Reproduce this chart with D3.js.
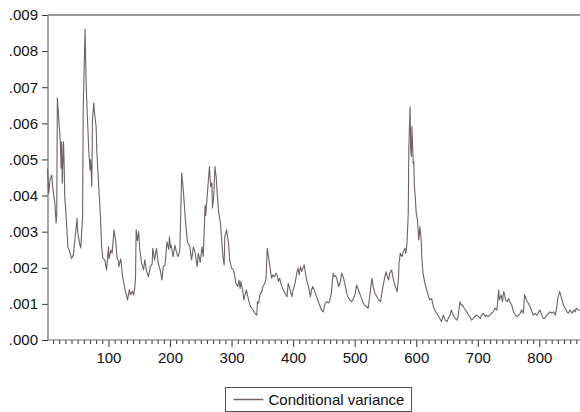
<!DOCTYPE html>
<html>
<head>
<meta charset="utf-8">
<script src="https://cdn.jsdelivr.net/npm/d3@7"></script>
<style>
  html, body { margin: 0; padding: 0; background: #fff; }
  svg { display: block; font-family: Arial, "Liberation Sans", sans-serif; }
</style>
</head>
<body>
<svg id="chart" width="580" height="412"></svg>
<script>
// conditional variance, [observation, value in thousandths]
const varEarly = [
  [1,4.75],[3,4.06],[5,4.43],[8,4.57],[9,4.34],[10,4.15],[13,3.79],[15,3.24],[16,3.45],[17,6.70],
  [19,6.19],[22,5.45],[23,4.76],[24,5.49],[25,4.34],[27,5.49],[28,4.90],[29,3.97],[32,3.24],[34,2.58],
  [37,2.45],[40,2.26],[43,2.35],[46,2.86],[49,3.37],[50,3.00],[53,2.69],[55,2.55],[58,3.40],[59,6.37],
  [62,8.61],[63,7.76],[64,6.97],[66,6.09],[68,5.26],[70,4.71],[71,5.00],[73,4.25],[74,6.09],[76,6.56],
  [78,6.19],[80,5.91],[81,5.26],[84,4.34],[87,3.42],[89,2.58],[91,2.26],[94,2.22],[97,1.94],[100,2.58],
  [101,2.25],[104,2.49],[106,2.40],[109,3.05],[112,2.72],[114,2.26],[116,2.20],[117,2.03],[120,2.25],[123,1.75],
  [125,1.57],[127,1.39],[131,1.11],[134,1.39],[136,1.25],[139,1.35],[141,1.25],[143,1.48],[144,1.75],[145,3.05],
  [147,2.75],[149,3.00],[151,2.49],[154,2.12],[157,1.94],[159,2.22],[162,1.90],[165,1.75],[168,2.03],[171,2.10],
  [172,2.54],[175,2.22],[178,2.54],[181,2.12],[184,1.94],[187,1.66],[189,2.03],[192,2.08],[195,2.72],[198,2.50],
  [199,2.86],[201,2.55],[202,2.62],[205,2.31],[208,2.62],[211,2.40],[213,2.31],[216,2.49],[219,4.62],[222,4.06],
  [225,3.32],[228,2.77],[229,2.68],[232,2.60],[235,2.22],[238,2.58],[241,2.40],[244,2.03],[246,2.40],[249,2.15],
  [252,2.58],[254,2.31],[257,3.74],[258,3.45],[260,3.90],[264,4.80],[266,4.25],[268,4.35],[269,3.65],[271,3.97],
  [273,4.80],[275,4.52],[277,3.97],[279,3.55],[282,3.23],[284,2.77],[286,2.31],[288,2.08],[289,2.86]
];

const varMid = [
  [292,3.05],[295,2.68],[297,2.22],[300,1.99],[303,1.94],[305,1.80],[307,1.57],[310,1.48],[312,1.66],[314,1.43],
  [315,1.62],[318,1.39],[320,1.11],[322,1.25],[324,1.39],[327,1.16],[329,1.02],[331,0.92],[335,0.83],[338,0.74],
  [341,0.69],[342,1.06],[344,1.02],[346,1.25],[349,1.34],[351,1.48],[354,1.57],[356,1.71],[358,2.54],[360,2.31],
  [363,1.94],[365,1.71],[367,1.80],[370,1.75],[372,1.85],[374,1.80],[376,1.62],[378,1.71],[381,1.52],[384,1.39],
  [387,1.29],[390,1.20],[392,1.57],[395,1.39],[398,1.20],[400,1.39],[403,1.57],[406,1.85],[408,1.99],[410,1.80],
  [412,2.03],[414,1.90],[418,2.08],[420,1.85],[422,1.66],[425,1.48],[428,1.20],[430,1.39],[432,1.48],[435,1.34],
  [438,1.20],[441,1.06],[444,0.92],[446,0.83],[449,0.78],[452,1.02],[455,1.06],[457,1.02],[459,1.06],[462,1.29],
  [465,1.85],[467,1.75],[469,1.78],[471,1.70],[474,1.48],[476,1.57],[479,1.85],[482,1.71],[485,1.48],[487,1.29],
  [489,1.20],[492,1.11],[495,1.06],[498,1.15],[501,1.29],[503,1.52],[506,1.39],[509,1.25],[512,1.11],[514,1.02],
  [516,0.97],[519,0.92],[522,0.88],[525,1.29],[528,1.71],[530,1.48],[533,1.29],[536,1.20],[539,1.11],[542,1.06],
  [544,1.29],[546,1.48],[549,1.75],[551,1.89],[553,1.75],[555,1.66],[557,1.85],[560,1.94],[563,1.66],[566,1.48],
  [569,1.34],[571,1.66],[572,2.12],[574,2.40],[577,2.31],[579,2.45]
];

const varLate = [
  [582,2.54],[583,2.40],[585,2.68],[587,3.51],[588,5.35],[589,5.91],[590,6.46],[591,5.26],[592,5.08],[593,5.91],
  [595,4.89],[596,4.95],[597,4.25],[598,4.06],[600,3.51],[602,3.32],[604,2.77],[606,3.14],[608,2.77],[609,2.31],
  [611,1.85],[614,1.57],[617,1.39],[620,1.20],[622,1.11],[625,1.15],[628,0.92],[630,0.83],[633,0.74],[635,0.69],
  [638,0.60],[641,0.51],[644,0.69],[647,0.55],[650,0.51],[652,0.60],[655,0.69],[657,0.83],[660,0.69],[663,0.60],
  [666,0.55],[668,0.65],[671,1.06],[673,0.97],[675,0.97],[677,0.90],[680,0.83],[682,0.78],[685,0.69],[687,0.65],
  [690,0.55],[693,0.60],[695,0.65],[698,0.69],[701,0.65],[704,0.60],[706,0.69],[709,0.74],[712,0.65],[714,0.69],
  [717,0.65],[720,0.69],[722,0.74],[725,0.78],[728,0.88],[731,0.83],[734,1.39],[735,1.11],[738,1.25],[740,1.06],
  [742,1.34],[743,1.29],[745,1.11],[748,1.06],[750,1.15],[752,1.06],[755,0.97],[758,0.78],[761,0.69],[764,0.65],
  [766,0.69],[769,0.74],[771,0.83],[774,0.74],[776,1.25],[779,1.11],[782,1.02],[785,0.92],[788,0.78],[790,0.69],
  [793,0.74],[796,0.69],[799,0.78],[801,0.83],[804,0.69],[806,0.60],[809,0.60],[812,0.69],[815,0.74],[817,0.78],
  [820,0.74],[823,0.78],[826,0.69],[828,0.88],[830,1.16],[833,1.34],[836,1.16],[839,0.97],[842,0.88],[845,0.78],
  [847,0.74],[850,0.83],[853,0.74],[856,0.83],[858,0.78],[860,0.88],[863,0.83],[866,0.83]
];

const UNIT = 1e-3;
const yTicks = [0, .001, .002, .003, .004, .005, .006, .007, .008, .009];
const xMajor = [100, 200, 300, 400, 500, 600, 700, 800];
const xMinor = d3.range(10, 870, 10).filter(v => v % 100 !== 0);
const legendLabel = 'Conditional variance';

const series = varEarly.concat(varMid, varLate).map(d => ({ obs: d[0], v: d[1] * UNIT }));

const svg = d3.select('#chart');
const m = { left: 48, top: 15, right: 580, bottom: 340 };

const x = d3.scaleLinear().domain([1, 866]).range([47.5, m.right]);
const y = d3.scaleLinear().domain([0, 0.009]).range([m.bottom, m.top]);

const axisCol = '#6a6a6a';
const fmt = v => d3.format('.3f')(v).replace(/^0/, '');

// y axis
const gy = svg.append('g').attr('transform', `translate(${m.left},0)`)
  .call(d3.axisLeft(y).tickValues(yTicks).tickFormat(fmt).tickSize(6).tickSizeOuter(0).tickPadding(4));
gy.select('.domain').remove();
gy.selectAll('line').attr('stroke', '#333');
gy.selectAll('text').attr('font-size', 15).attr('fill', '#111').attr('font-family', 'Arial, "Liberation Sans", sans-serif');

// x axis: minor ticks, then major ticks with labels
const gxMinor = svg.append('g').attr('transform', `translate(0,${m.bottom})`)
  .call(d3.axisBottom(x).tickValues(xMinor).tickFormat('').tickSize(4).tickSizeOuter(0));
gxMinor.select('.domain').remove();
gxMinor.selectAll('line').attr('stroke', '#333');

const gx = svg.append('g').attr('transform', `translate(0,${m.bottom})`)
  .call(d3.axisBottom(x).tickValues(xMajor).tickFormat(d3.format('d')).tickSize(7).tickSizeOuter(0).tickPadding(5));
gx.select('.domain').remove();
gx.selectAll('line').attr('stroke', '#333');
gx.selectAll('text').attr('font-size', 15).attr('fill', '#111').attr('font-family', 'Arial, "Liberation Sans", sans-serif');

// frame: left axis, bottom axis, top border
svg.append('line').attr('x1', m.left).attr('x2', m.left).attr('y1', m.top).attr('y2', m.bottom)
  .attr('stroke', axisCol).attr('stroke-width', 1.2);
svg.append('line').attr('x1', m.left).attr('x2', m.right).attr('y1', m.bottom).attr('y2', m.bottom)
  .attr('stroke', axisCol).attr('stroke-width', 1.2);
svg.append('line').attr('x1', m.left).attr('x2', m.right).attr('y1', m.top).attr('y2', m.top)
  .attr('stroke', '#7a7a7a').attr('stroke-width', 1.6);

// series line
const line = d3.line().x(d => x(d.obs)).y(d => y(d.v));
svg.append('path').datum(series)
  .attr('d', line)
  .attr('fill', 'none')
  .attr('stroke', '#6e6262')
  .attr('stroke-width', 1.1)
  .attr('stroke-linejoin', 'round');

// legend
const lg = svg.append('g').attr('transform', 'translate(225.5,387.5)');
lg.append('rect').attr('width', 186).attr('height', 24)
  .attr('fill', '#fff').attr('stroke', '#555').attr('stroke-width', 1);
lg.append('line').attr('x1', 8).attr('x2', 38).attr('y1', 12).attr('y2', 12)
  .attr('stroke', '#6e6262').attr('stroke-width', 1.5);
lg.append('text').attr('x', 43).attr('y', 17).attr('font-size', 15).attr('fill', '#111')
  .text(legendLabel);
</script>
</body>
</html>
